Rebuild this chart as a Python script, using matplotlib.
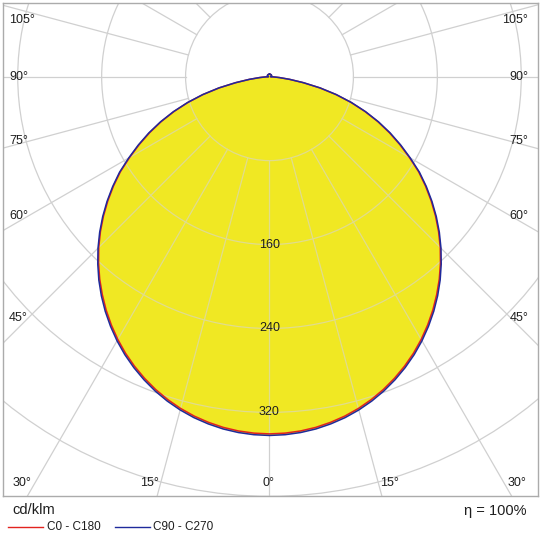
"""Кривая силы света (КСС) в полярных координатах, cd/klm."""

import numpy as np
import matplotlib

matplotlib.use("Agg")
import matplotlib.pyplot as plt
from matplotlib.lines import Line2D
from matplotlib.patches import Circle

plt.rcParams["font.family"] = ["Liberation Sans", "DejaVu Sans"]

# Углы гамма (от надира), градусы
GAMMA = [0, 2.5, 5, 7.5, 10, 12.5, 15, 17.5, 20, 22.5, 25, 27.5, 30, 32.5,
         35, 37.5, 40, 42.5, 45, 47.5, 50, 52.5, 55, 57.5, 60, 62.5, 65,
         67.5, 70, 72.5, 75, 77.5, 80, 82.5, 85, 87.5, 90,
         105, 120, 135, 150, 165, 180]
# Сила света, cd/klm
C0_C180 = [340.5, 340.1, 339.0, 337.2, 334.6, 331.4, 327.4, 322.7, 317.3,
           311.2, 304.5, 297.2, 289.2, 280.6, 271.5, 261.8, 251.8, 241.2,
           230.2, 218.6, 206.6, 194.2, 181.5, 168.5, 154.0, 140.0, 126.0,
           111.7, 96.8, 81.4, 65.5, 49.0, 32.6, 19.2, 9.3, 3.4, 1.0,
           2.0, 2.3, 2.4, 2.4, 2.4, 2.4]
C90_C270 = [342.0, 341.6, 340.5, 338.7, 336.1, 332.9, 328.9, 324.2, 318.8,
            312.7, 306.0, 298.7, 290.7, 282.1, 273.0, 263.3, 253.1, 242.3,
            231.2, 219.6, 207.6, 195.2, 182.5, 169.5, 155.0, 141.0, 127.0,
            112.5, 97.5, 82.0, 66.0, 49.5, 33.0, 19.5, 9.5, 3.5, 1.0,
            2.0, 2.3, 2.4, 2.4, 2.4, 2.4]

RING_STEP = 80
RINGS = [80, 160, 240, 320, 400, 480, 560]
RING_LABELS = [160, 240, 320]
SPOKES = list(range(-180, 181, 15))

# подписи углов: (текст, x, y в долях осей, выравнивание)
ANGLE_LABELS = [
    ("105°", 0.0112, 0.9655, "left"), ("90°", 0.0112, 0.850, "left"),
    ("75°", 0.0112, 0.720, "left"), ("60°", 0.0112, 0.568, "left"),
    ("45°", 0.0112, 0.361, "left"),
    ("105°", 0.982, 0.9655, "right"), ("90°", 0.982, 0.850, "right"),
    ("75°", 0.982, 0.720, "right"), ("60°", 0.982, 0.568, "right"),
    ("45°", 0.982, 0.361, "right"),
    ("30°", 0.036, 0.026, "center"), ("15°", 0.273, 0.026, "center"),
    ("0°", 0.497, 0.026, "center"), ("15°", 0.722, 0.026, "center"),
    ("30°", 0.961, 0.026, "center"),
]

RED = "#e2231f"
BLUE = "#1f2a9c"
YELLOW = "#f0e823"
GRID = "#d0d0d0"
GRID_IN = "#e0dc8e"   # та же сетка, но поверх жёлтой заливки
INK = "#1e1e1e"
FRAME = "#ababab"


def full_curve(values):
    """Зеркалим полуплоскость: C180 слева, C0 справа."""
    g = np.deg2rad(np.array(GAMMA, dtype=float))
    v = np.array(values, dtype=float)
    theta = np.concatenate([-g[::-1], g[1:]])
    r = np.concatenate([v[::-1], v[1:]])
    return r * np.sin(theta), -r * np.cos(theta)


def draw_grid(ax, color, zorder, clip=None):
    arts = []
    for r in RINGS:
        c = Circle((0, 0), r, fill=False, edgecolor=color, linewidth=0.9,
                   zorder=zorder)
        ax.add_patch(c)
        arts.append(c)
    for a in SPOKES:
        t = np.deg2rad(a)
        ln, = ax.plot([RING_STEP * np.sin(t), 700 * np.sin(t)],
                      [-RING_STEP * np.cos(t), -700 * np.cos(t)],
                      color=color, linewidth=0.9, zorder=zorder)
        arts.append(ln)
    if clip is not None:
        for art in arts:
            art.set_clip_path(clip)


fig = plt.figure(figsize=(5.4, 5.33), dpi=100, facecolor="white")
ax = fig.add_axes([3 / 540, 37 / 533, 535 / 540, 493 / 533])
ax.set_xlim(-254.05, 255.96)
ax.set_ylim(-399.7, 70.26)
ax.set_xticks([])
ax.set_yticks([])
for sp in ax.spines.values():
    sp.set_color(FRAME)
    sp.set_linewidth(1.0)

draw_grid(ax, GRID, 0.5)

# заливка по внешней кривой
xb, yb = full_curve(C90_C270)
poly = ax.fill(xb, yb, color=YELLOW, zorder=1, linewidth=0)[0]
draw_grid(ax, GRID_IN, 2, clip=poly)

xr, yr = full_curve(C0_C180)
ax.plot(xr, yr, color=RED, linewidth=1.1, zorder=3)
ax.plot(xb, yb, color=BLUE, linewidth=1.1, zorder=3)

for v in RING_LABELS:
    ax.text(0, -v, str(v), ha="center", va="center", fontsize=9, color=INK,
            zorder=4)

for txt, x, y, ha in ANGLE_LABELS:
    ax.text(x, y, txt, transform=ax.transAxes, ha=ha, va="center",
            fontsize=9, color=INK, zorder=4)

# подписи под диаграммой
fig.text(12 / 540, 1 - 510 / 533, "cd/klm", ha="left", va="center",
         fontsize=10.5, color=INK)
fig.text(527 / 540, 1 - 511 / 533, "η = 100%", ha="right", va="center",
         fontsize=10.5, color=INK)

ly = 1 - 526.5 / 533
fig.add_artist(Line2D([8 / 540, 43 / 540], [ly, ly], color=RED, linewidth=1.0,
                      transform=fig.transFigure))
fig.text(47 / 540, ly, "C0 - C180", ha="left", va="center", fontsize=8.5,
         color=INK)
fig.add_artist(Line2D([115 / 540, 150 / 540], [ly, ly], color=BLUE,
                      linewidth=1.0, transform=fig.transFigure))
fig.text(153 / 540, ly, "C90 - C270", ha="left", va="center", fontsize=8.5,
         color=INK)

fig.savefig("out.png", dpi=100, facecolor="white")
